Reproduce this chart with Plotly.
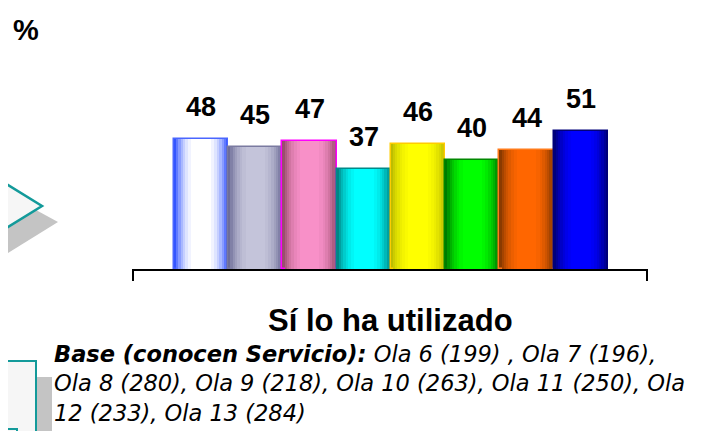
import plotly.graph_objects as go

categories = ["Ola 6", "Ola 7", "Ola 8", "Ola 9", "Ola 10", "Ola 11", "Ola 12", "Ola 13"]
values = [48, 45, 47, 37, 46, 40, 44, 51]
edge_colors = ["#3355FF", "#6E6E98", "#9A4E6E", "#008585", "#BDBD00", "#007A00", "#8A3A00", "#00007A"]
center_colors = ["#FFFFFF", "#C4C4DA", "#F890C8", "#00FFFF", "#FFFF00", "#00FF00", "#FF6600", "#0000FF"]
border_colors = ["#4A66FF", "#7A7AA0", "#FF00FF", "#008A8A", "#FFCC00", "#008800", "#FF7A1A", "#00007A"]
label_text = [str(v) for v in values]
title_text = "Sí lo ha utilizado"
base_lines = [
    "<b>Base (conocen Servicio):</b> Ola 6 (199) , Ola 7 (196),",
    "Ola 8 (280), Ola 9 (218), Ola 10 (263), Ola 11 (250), Ola",
    "12 (233), Ola 13 (284)",
]

# page offset and plot area geometry in page pixels
OFF = 8
W, H = 725 - OFF, 431 - OFF
L, R = 133, 647
T, B = 60, 269


def hex2rgb(h):
    h = h.lstrip("#")
    return tuple(int(h[i:i + 2], 16) for i in (0, 2, 4))


def blend(a, b, t):
    ra, rb = hex2rgb(a), hex2rgb(b)
    c = tuple(round(ra[i] + (rb[i] - ra[i]) * t) for i in range(3))
    return "rgb(%d,%d,%d)" % c


def px(x, y):
    return (x - L) / (R - L), (B - y) / (B - T)


fig = go.Figure()

layers = [(1.0, 0.0), (0.92, 0.22), (0.84, 0.42), (0.76, 0.58), (0.67, 0.72),
          (0.58, 0.84), (0.48, 0.93), (0.36, 1.0)]
for i, (w, t) in enumerate(layers):
    fig.add_trace(go.Bar(
        x=categories, y=values, width=w,
        marker=dict(
            color=[blend(e, c, t) for e, c in zip(edge_colors, center_colors)],
            line=dict(color=border_colors if i == 0 else "rgba(0,0,0,0)", width=1.5 if i == 0 else 0),
        ),
        hoverinfo="skip", showlegend=False,
    ))

annotations = []
for c, v, s in zip(categories, values, label_text):
    annotations.append(dict(
        x=c, y=v, xref="x", yref="y", text="<b>%s</b>" % s, showarrow=False,
        yanchor="bottom", yshift=15,
        font=dict(family="Liberation Sans, Arial", size=27, color="black"),
    ))

x0, y0 = px(26, 30)
annotations.append(dict(x=x0, y=y0, xref="paper", yref="paper", text="<b>%</b>", showarrow=False,
                        xanchor="center", yanchor="middle",
                        font=dict(family="Liberation Sans, Arial", size=29, color="black")))
x0, y0 = px(390, 320)
annotations.append(dict(x=x0, y=y0, xref="paper", yref="paper", text="<b>%s</b>" % title_text, showarrow=False,
                        xanchor="center", yanchor="middle",
                        font=dict(family="Liberation Sans, Arial", size=31, color="black")))
x0, y0 = px(52, 383)
annotations.append(dict(x=x0, y=y0, xref="paper", yref="paper",
                        text="<i>%s</i>" % "<br>".join(base_lines), showarrow=False,
                        xanchor="left", yanchor="middle", align="left",
                        font=dict(family="DejaVu Sans, Liberation Sans, Arial", size=22.5, color="black")))


def poly(points):
    p = [px(x, y) for x, y in points]
    return "M " + " L ".join("%f,%f" % q for q in p) + " Z"


shapes = []
# axis end ticks
for xe in (L, R):
    a, _ = px(xe, 0)
    _, ya = px(0, B)
    _, yb = px(0, B + 12)
    shapes.append(dict(type="line", xref="paper", yref="paper", x0=a, x1=a, y0=ya, y1=yb,
                       line=dict(color="black", width=2)))
# decorative slide shapes at the left edge
shapes.append(dict(type="path", xref="paper", yref="paper", path=poly([(-10, 185), (58, 222), (-10, 264)]),
                   fillcolor="#C4C4C4", line=dict(width=0), layer="below"))
shapes.append(dict(type="path", xref="paper", yref="paper", path=poly([(-10, 174), (42, 206), (-10, 238)]),
                   fillcolor="#F6F6F6", line=dict(color="#139A9A", width=2.5), layer="below"))
shapes.append(dict(type="path", xref="paper", yref="paper", path=poly([(36, 377), (52, 377), (52, 440), (36, 440)]),
                   fillcolor="#C4C4C4", line=dict(width=0), layer="below"))
shapes.append(dict(type="path", xref="paper", yref="paper", path=poly([(-5, 361), (36, 361), (36, 440), (-5, 440)]),
                   fillcolor="#F6F6F6", line=dict(color="#139A9A", width=2), layer="below"))
a0, b0 = px(-5, 429)
a1, _ = px(17, 429)
_, b1 = px(0, 440)
shapes.append(dict(type="path", xref="paper", yref="paper",
                   path="M %f,%f L %f,%f L %f,%f" % (a0, b0, a1, b0, a1, b1),
                   line=dict(color="#139A9A", width=2)))

fig.update_layout(
    width=W, height=H,
    margin=dict(l=L - OFF, r=W - (R - OFF), t=T - OFF, b=H - (B - OFF), pad=0),
    paper_bgcolor="white", plot_bgcolor="white",
    barmode="overlay", bargap=0,
    showlegend=False,
    xaxis=dict(range=[-1.256, 8.22], showticklabels=False, ticks="", showgrid=False, zeroline=False,
               showline=True, linecolor="black", linewidth=2, fixedrange=True),
    yaxis=dict(range=[0, 77], visible=False, fixedrange=True),
    annotations=annotations,
    shapes=shapes,
)

fig.write_html("out.html")
